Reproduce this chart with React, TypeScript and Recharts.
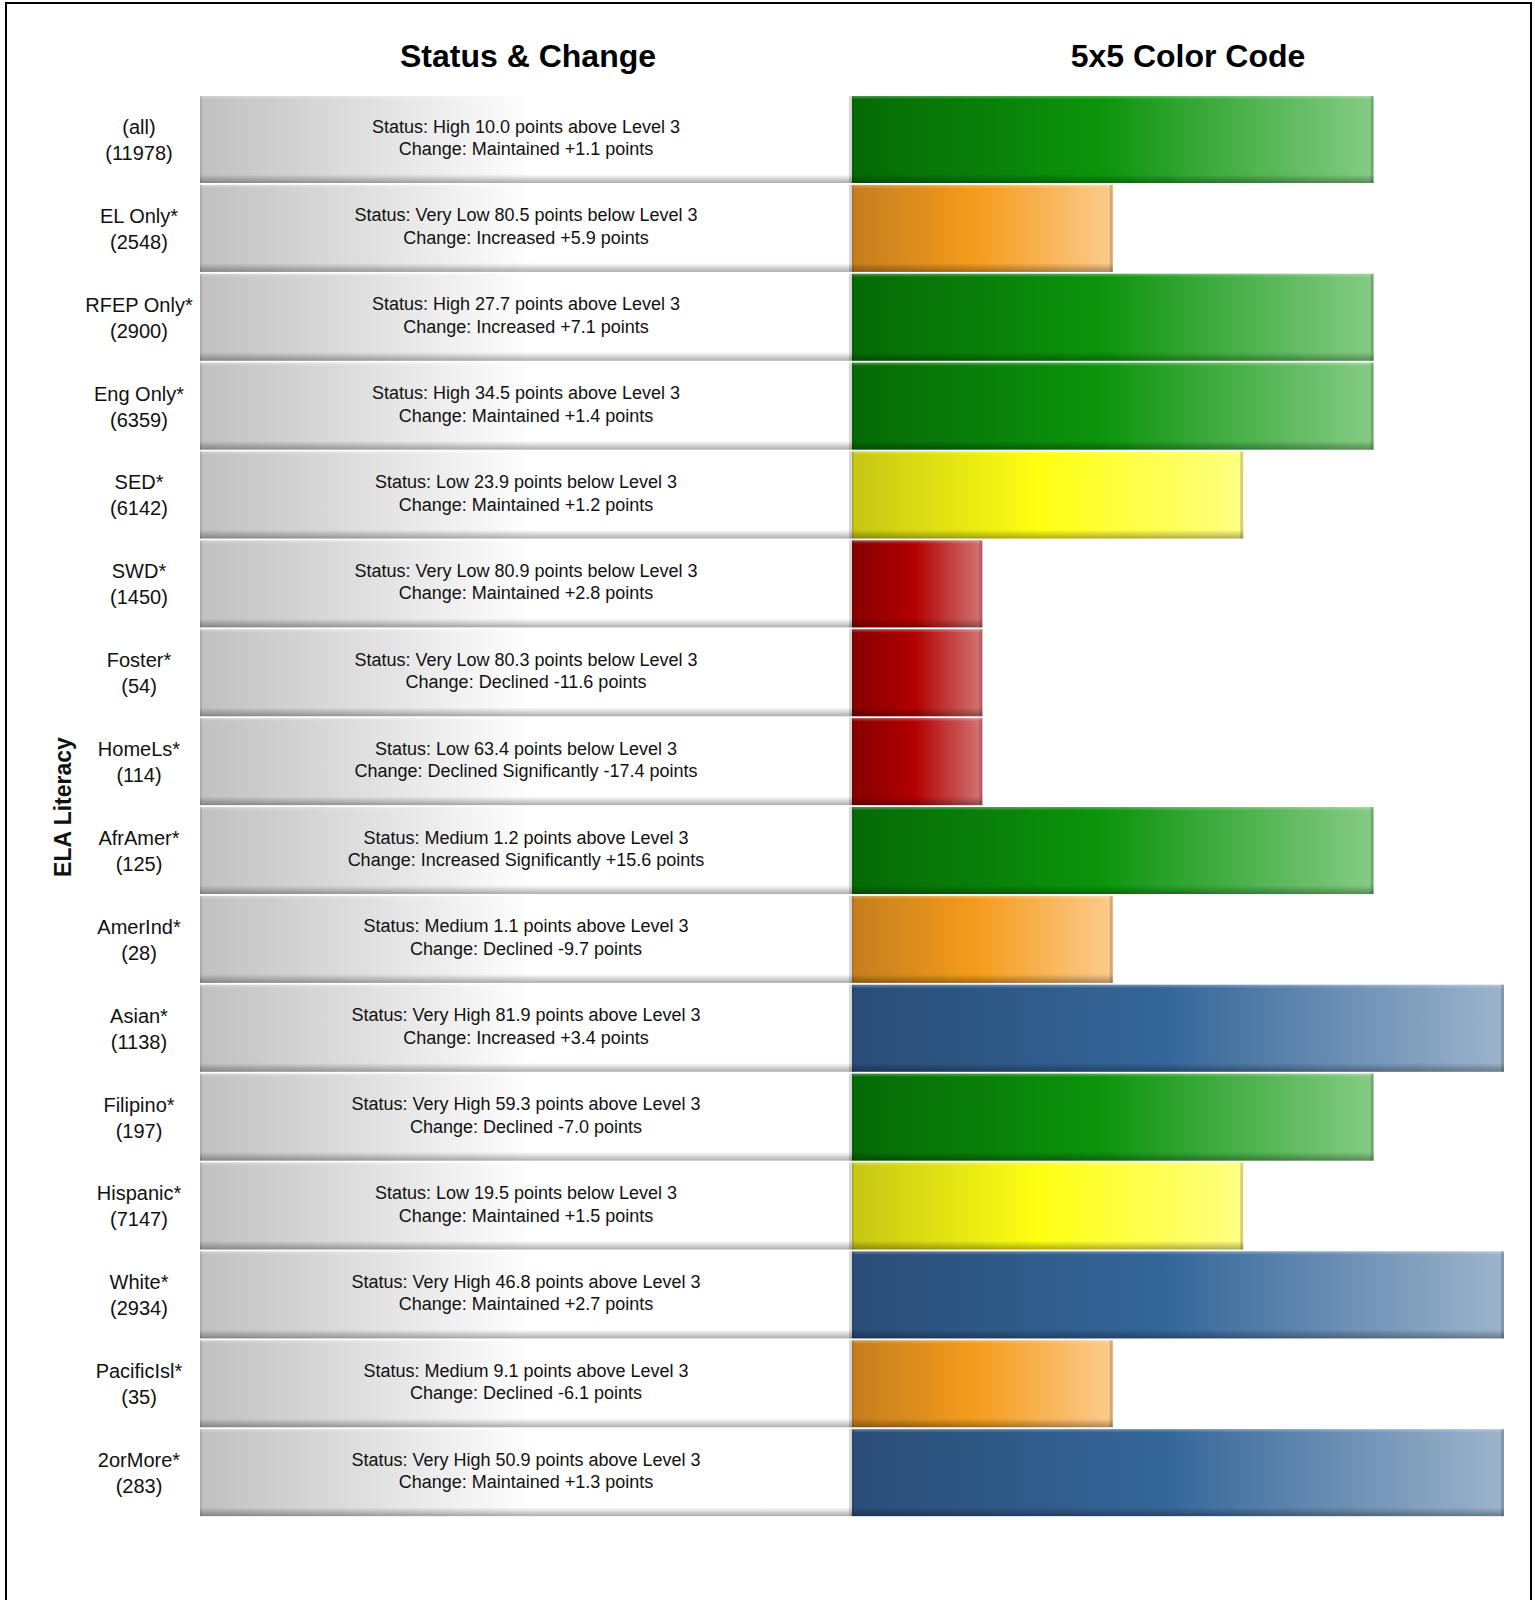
import React from 'react';
import { BarChart, Bar, XAxis, YAxis, LabelList } from 'recharts';

// student groups (y axis) and their counts
const groups = [
  '(all)', 'EL Only*', 'RFEP Only*', 'Eng Only*', 'SED*', 'SWD*', 'Foster*', 'HomeLs*',
  'AfrAmer*', 'AmerInd*', 'Asian*', 'Filipino*', 'Hispanic*', 'White*', 'PacificIsl*', '2orMore*',
];
const counts = [11978, 2548, 2900, 6359, 6142, 1450, 54, 114, 125, 28, 1138, 197, 7147, 2934, 35, 283];

const statusText = [
  'Status: High 10.0 points above Level 3',
  'Status: Very Low 80.5 points below Level 3',
  'Status: High 27.7 points above Level 3',
  'Status: High 34.5 points above Level 3',
  'Status: Low 23.9 points below Level 3',
  'Status: Very Low 80.9 points below Level 3',
  'Status: Very Low 80.3 points below Level 3',
  'Status: Low 63.4 points below Level 3',
  'Status: Medium 1.2 points above Level 3',
  'Status: Medium 1.1 points above Level 3',
  'Status: Very High 81.9 points above Level 3',
  'Status: Very High 59.3 points above Level 3',
  'Status: Low 19.5 points below Level 3',
  'Status: Very High 46.8 points above Level 3',
  'Status: Medium 9.1 points above Level 3',
  'Status: Very High 50.9 points above Level 3',
];
const changeText = [
  'Change: Maintained +1.1 points',
  'Change: Increased +5.9 points',
  'Change: Increased +7.1 points',
  'Change: Maintained +1.4 points',
  'Change: Maintained +1.2 points',
  'Change: Maintained +2.8 points',
  'Change: Declined -11.6 points',
  'Change: Declined Significantly -17.4 points',
  'Change: Increased Significantly +15.6 points',
  'Change: Declined -9.7 points',
  'Change: Increased +3.4 points',
  'Change: Declined -7.0 points',
  'Change: Maintained +1.5 points',
  'Change: Maintained +2.7 points',
  'Change: Declined -6.1 points',
  'Change: Maintained +1.3 points',
];

// 5x5 colour level: 1 red, 2 orange, 3 yellow, 4 green, 5 blue
const levels = [4, 2, 4, 4, 3, 1, 1, 1, 4, 2, 5, 4, 3, 5, 2, 5];
// width of the grey text panel, in the same units
const panelSpan = [5, 5, 5, 5, 5, 5, 5, 5, 5, 5, 5, 5, 5, 5, 5, 5];

const levelColors: Record<number, [string, string, string]> = {
  1: ['#860000', '#b20000', '#d27676'],
  2: ['#c57e1e', '#f59c1c', '#fccb8e'],
  3: ['#c6c614', '#ffff12', '#ffff84'],
  4: ['#056a05', '#0c940c', '#86cc86'],
  5: ['#2a4d77', '#346699', '#9db4cc'],
};

const data = groups.map((name, i) => ({
  name,
  count: counts[i],
  status: statusText[i],
  change: changeText[i],
  panel: panelSpan[i],
  level: levels[i],
}));

const FONT = '"Liberation Sans", Arial, sans-serif';

const Bevel = ({ x, y, width, height }: any) => (
  <g>
    <rect x={x} y={y} width={width} height={height} fill="url(#bevelV)" />
    <rect x={x} y={y} width={2} height={height} fill="#000" fillOpacity={0.1} />
    <rect x={x + width - 3} y={y} width={3} height={height} fill="#000" fillOpacity={0.16} />
  </g>
);

const PanelShape = (props: any) => {
  const { x, y, width, height } = props;
  const h = height - 2;
  return (
    <g>
      <rect x={x} y={y + 1} width={width} height={h} fill="url(#gradPanel)" />
      <Bevel x={x} y={y + 1} width={width} height={h} />
    </g>
  );
};

const LevelShape = (props: any) => {
  const { x, y, width, height, payload } = props;
  const h = height - 2;
  return (
    <g>
      <rect x={x} y={y + 1} width={width} height={h} fill={`url(#grad${payload.level})`} />
      <Bevel x={x} y={y + 1} width={width} height={h} />
    </g>
  );
};

const PanelText = (props: any) => {
  const { x, y, width, height, index } = props;
  const cx = x + width / 2;
  const cy = y + height / 2;
  return (
    <g fontFamily={FONT} fontSize={18} fill="#111" textAnchor="middle">
      <text x={cx} y={cy - 7}>{statusText[index]}</text>
      <text x={cx} y={cy + 15.5}>{changeText[index]}</text>
    </g>
  );
};

const GroupTick = (props: any) => {
  const { y, payload } = props;
  const i = groups.indexOf(payload.value);
  return (
    <g fontFamily={FONT} fontSize={20} fill="#111" textAnchor="middle">
      <text x={139} y={y - 5.5}>{payload.value}</text>
      <text x={139} y={y + 20.5}>({counts[i]})</text>
    </g>
  );
};

export default function App() {
  return (
    <div style={{ position: 'absolute', left: 0, top: 0, width: 1535, height: 1600, background: '#fff' }}>
      <div
        style={{
          position: 'absolute', left: 5, top: 2, width: 1527, height: 1700,
          border: '2px solid #000', boxSizing: 'border-box',
        }}
      />
      <div style={{ position: 'absolute', left: 0, top: 0 }}>
        <BarChart
          width={1535}
          height={1600}
          data={data}
          layout="vertical"
          barCategoryGap={0}
          margin={{ top: 95, right: 31, bottom: 83, left: 0 }}
        >
          <defs>
            <linearGradient id="gradPanel" x1="0" y1="0" x2="1" y2="0">
              <stop offset="0" stopColor="#c0c0c0" />
              <stop offset="0.51" stopColor="#ffffff" />
              <stop offset="1" stopColor="#ffffff" />
            </linearGradient>
            {Object.entries(levelColors).map(([k, c]) => (
              <linearGradient key={k} id={`grad${k}`} x1="0" y1="0" x2="1" y2="0">
                <stop offset="0" stopColor={c[0]} />
                <stop offset="0.48" stopColor={c[1]} />
                <stop offset="1" stopColor={c[2]} />
              </linearGradient>
            ))}
            <linearGradient id="bevelV" x1="0" y1="0" x2="0" y2="1">
              <stop offset="0" stopColor="#fff" stopOpacity={0.3} />
              <stop offset="0.04" stopColor="#fff" stopOpacity={0} />
              <stop offset="0.9" stopColor="#000" stopOpacity={0} />
              <stop offset="1" stopColor="#000" stopOpacity={0.32} />
            </linearGradient>
          </defs>
          <XAxis type="number" domain={[0, 10]} hide />
          <YAxis
            type="category"
            dataKey="name"
            width={200}
            interval={0}
            tickLine={false}
            axisLine={false}
            tick={<GroupTick />}
          />
          <Bar dataKey="panel" stackId="a" shape={<PanelShape />} isAnimationActive={false}>
            <LabelList dataKey="status" content={<PanelText />} />
          </Bar>
          <Bar dataKey="level" stackId="a" shape={<LevelShape />} isAnimationActive={false} />
        </BarChart>
      </div>
      <svg
        width={1535}
        height={1600}
        style={{ position: 'absolute', left: 0, top: 0, pointerEvents: 'none' }}
        fontFamily={FONT}
      >
        <text x={528} y={67} fontSize={32} fontWeight="bold" textAnchor="middle" fill="#000">
          Status &amp; Change
        </text>
        <text x={1188} y={67} fontSize={32} fontWeight="bold" textAnchor="middle" fill="#000">
          5x5 Color Code
        </text>
        <text
          x={71}
          y={807}
          fontSize={23}
          fontWeight="bold"
          textAnchor="middle"
          fill="#111"
          transform="rotate(-90 71 807)"
        >
          ELA Literacy
        </text>
      </svg>
    </div>
  );
}
